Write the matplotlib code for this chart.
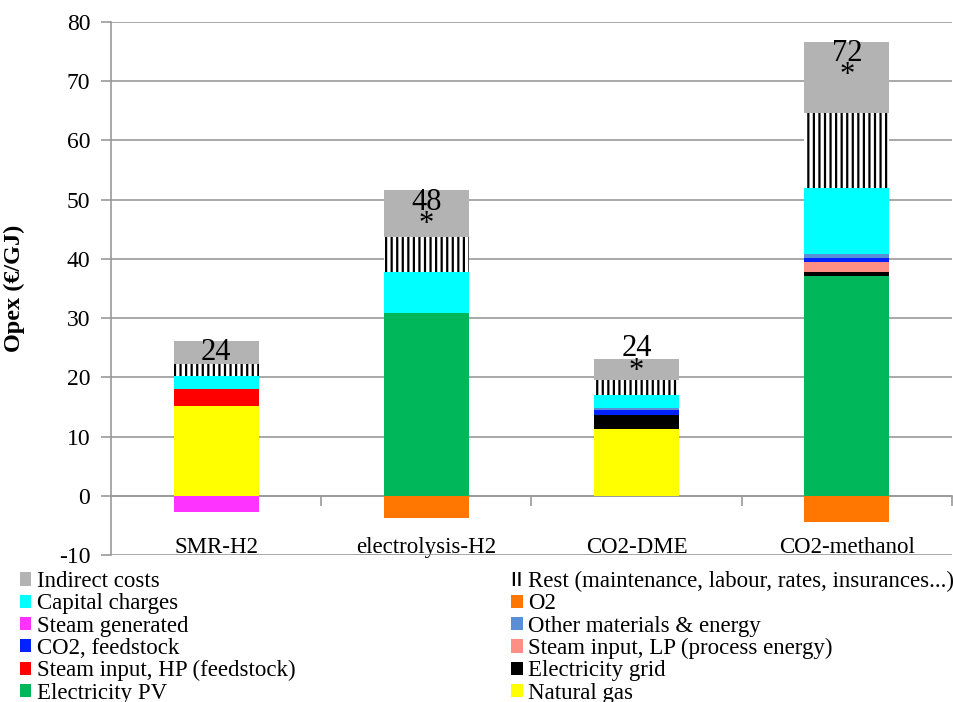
import numpy as np
import matplotlib.pyplot as plt
from matplotlib.patches import Patch

plt.rcParams["font.family"] = ["Liberation Serif", "DejaVu Serif"]
plt.rcParams["hatch.linewidth"] = 1.6
plt.rcParams["axes.unicode_minus"] = False

## Data (EUR/GJ) ##
categories = ["SMR-H2", "electrolysis-H2", "CO2-DME", "CO2-methanol"]

natural_gas    = [15.1, 0.0, 11.3, 0.0]
electricity_pv = [0.0, 30.9, 0.0, 37.1]
electricity_gr = [0.0, 0.0, 2.4, 0.65]
steam_hp       = [2.9, 0.0, 0.0, 0.0]
steam_lp       = [0.0, 0.0, 0.0, 1.65]
co2_feed       = [0.0, 0.0, 0.8, 0.8]
other_mat      = [0.0, 0.0, 0.3, 0.6]
capital        = [2.3, 6.85, 2.25, 11.1]
rest           = [2.0, 5.95, 2.45, 12.8]
indirect       = [3.9, 7.9, 3.6, 12.0]
steam_gen      = [-2.8, 0.0, 0.0, 0.0]
o2             = [0.0, -3.8, 0.0, -4.5]

totals_label = ["24", "48", "24", "72"]
label_inside = [True, True, False, True]
has_star     = [False, True, True, True]

positive = [
    ("Natural gas", natural_gas, "#ffff00", None),
    ("Electricity PV", electricity_pv, "#00b85a", None),
    ("Electricity grid", electricity_gr, "#000000", None),
    ("Steam input, HP (feedstock)", steam_hp, "#ff0000", None),
    ("Steam input, LP (process energy)", steam_lp, "#ff8f85", None),
    ("CO2, feedstock", co2_feed, "#0022ff", None),
    ("Other materials & energy", other_mat, "#5a8fd8", None),
    ("Capital charges", capital, "#00ffff", None),
    ("Rest (maintenance, labour, rates, insurances...)", rest, "white", "|||"),
    ("Indirect costs", indirect, "#b3b3b3", None),
]
negative = [
    ("Steam generated", steam_gen, "#ff33ff", None),
    ("O2", o2, "#ff7700", None),
]

fig = plt.figure(figsize=(9.54, 7.02), dpi=100)
ax = fig.add_axes([111/954, 1 - 555/702, 841/954, 533/702])

x = np.arange(len(categories))
w = 0.405
handles = {}
bottom = np.zeros(len(categories))
for name, vals, col, hatch in positive:
    vals = np.array(vals)
    ax.bar(x, vals, w, bottom=bottom, color=col, hatch=hatch,
           edgecolor="black" if hatch else col, linewidth=0, zorder=3)
    handles[name] = Patch(facecolor=col, hatch=hatch, edgecolor="black" if hatch else col, linewidth=0)
    bottom = bottom + vals
tops = bottom.copy()

nbottom = np.zeros(len(categories))
for name, vals, col, hatch in negative:
    vals = np.array(vals)
    ax.bar(x, vals, w, bottom=nbottom, color=col, linewidth=0, zorder=3)
    handles[name] = Patch(facecolor=col, edgecolor=col, linewidth=0)
    nbottom = nbottom + vals

# total labels and asterisks
for i in range(len(categories)):
    if label_inside[i]:
        ax.text(x[i], tops[i] - 2.0, totals_label[i], ha="center", va="center", fontsize=22, zorder=5)
        if has_star[i]:
            ax.text(x[i], tops[i] - 5.8, "*", ha="center", va="center", fontsize=22, zorder=5)
    else:
        ax.text(x[i], tops[i] + 1.7, totals_label[i], ha="center", va="center", fontsize=22, zorder=5)
        if has_star[i]:
            ax.text(x[i], tops[i] - 2.1, "*", ha="center", va="center", fontsize=22, zorder=5)

ax.set_xlim(-0.5, 3.5)
ax.set_ylim(-10, 80)
ax.set_yticks(np.arange(-10, 81, 10))
ax.yaxis.grid(True, color="#999999", linewidth=1.2, zorder=0)
ax.set_axisbelow(True)
for s in ["top", "right"]:
    ax.spines[s].set_visible(False)
ax.spines["left"].set_color("#999999")
ax.spines["bottom"].set_color("#999999")
ax.spines["left"].set_linewidth(1.2)
ax.spines["bottom"].set_linewidth(1.2)
ax.spines["bottom"].set_position(("data", 0))
ax.set_xticks(x)
ax.set_xticks(np.arange(len(categories)) + 0.5, minor=True)
ax.set_xticklabels(categories, fontsize=16.5)
ax.tick_params(axis="x", which="major", length=0, pad=30)
ax.tick_params(axis="x", which="minor", length=7, width=1.2, color="#999999", direction="out")
ax.tick_params(axis="y", length=7, width=1.2, color="#999999", labelsize=17, pad=8)
ax.set_ylabel("Opex (€/GJ)", fontsize=17.5, fontweight="bold")
ax.yaxis.set_label_coords(-86/841, 0.5)

order = ["Indirect costs", "Capital charges", "Steam generated", "CO2, feedstock",
         "Steam input, HP (feedstock)", "Electricity PV",
         "Rest (maintenance, labour, rates, insurances...)", "O2", "Other materials & energy",
         "Steam input, LP (process energy)", "Electricity grid", "Natural gas"]
fig.legend([handles[k] for k in order], order, ncol=2, loc="upper left",
           bbox_to_anchor=(20/954, 1 - 571/702), frameon=False, fontsize=16.5,
           handlelength=0.5, handleheight=0.5, handletextpad=0.25,
           labelspacing=0.055, columnspacing=9.4, borderaxespad=0, borderpad=0)

plt.savefig("out.png", dpi=100)
